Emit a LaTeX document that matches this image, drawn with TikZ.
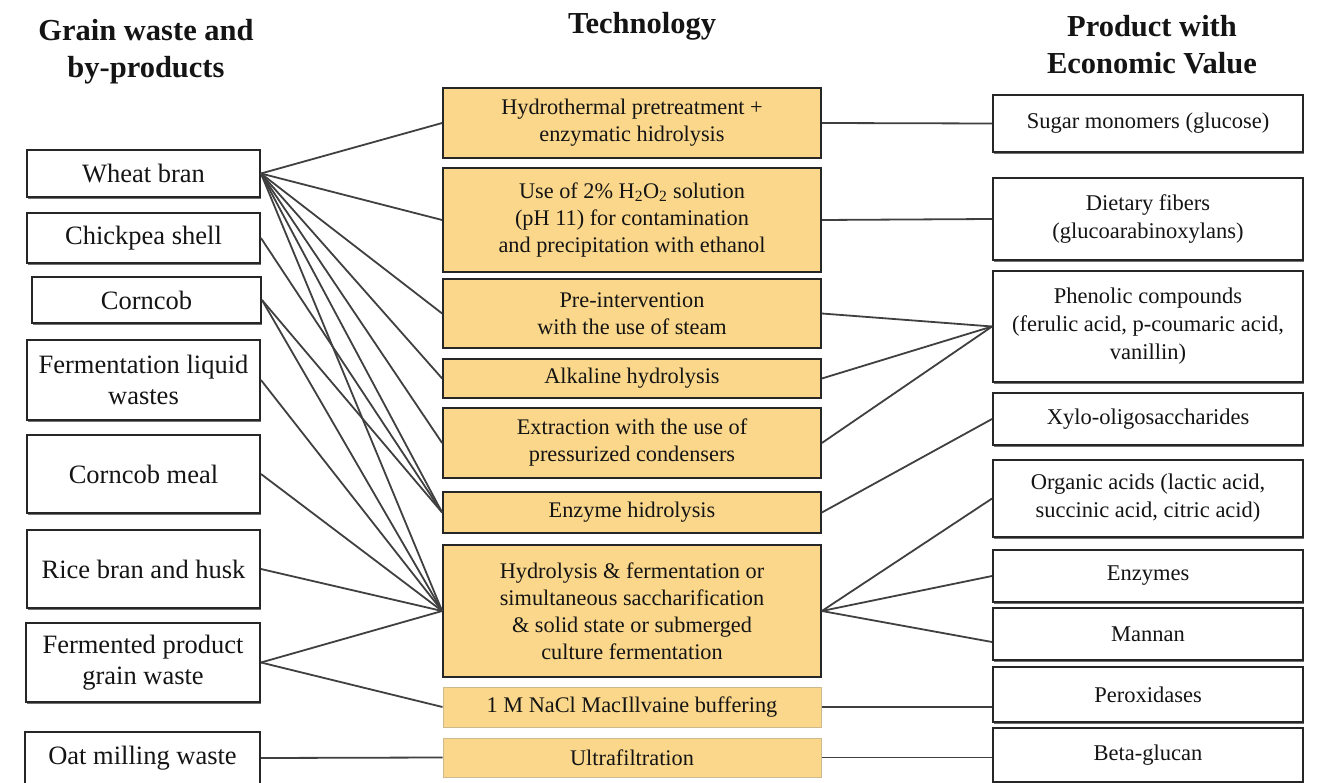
\documentclass[tikz,border=0pt]{standalone}
\usepackage{fontspec}
\setmainfont{Liberation Serif}
\usetikzlibrary{shadows}
\definecolor{techfill}{RGB}{250,215,138}
\definecolor{wire}{RGB}{64,64,64}
\definecolor{edge}{RGB}{38,38,38}
\definecolor{softedge}{RGB}{205,185,140}
\begin{document}
\begin{tikzpicture}[x=1pt,y=-1pt,
  every node/.style={inner sep=0pt, align=center, text=black!92},
  head/.style={font=\fontsize{30.5}{37}\selectfont\bfseries},
  shade box/.style={drop shadow={shadow xshift=0.8pt, shadow yshift=-1.6pt, fill=black!65, opacity=0.85}},
  srcbox/.style={draw=edge, line width=1.9pt, fill=white, minimum width=233pt,
    font=\fontsize{26.5}{31}\selectfont, shade box},
  techbox/.style={draw=edge, line width=1.7pt, fill=techfill, minimum width=378pt,
    font=\fontsize{22.3}{27}\selectfont},
  techsoft/.style={techbox, draw=softedge, line width=1pt},
  prodbox/.style={draw=edge, line width=1.9pt, fill=white, minimum width=310pt,
    font=\fontsize{22.5}{28}\selectfont, shade box},
  wire/.style={draw=wire, line width=1.8pt}
]
\clip (0,0) rectangle (1319,783);
\fill[white] (0,0) rectangle (1319,783);

% column headings
\node[head] (hsrc) at (146,52) {Grain waste and\\by-products};
\node[head] (htech) at (642,26) {Technology};
\node[head] (hprod) at (1152,45) {Product with\\Economic Value};

% grain waste and by-products
\node[srcbox, minimum height=47pt] (wheat) at (143.5,173.5) {Wheat bran};
\node[srcbox, minimum height=50pt] (chick) at (143.5,238) {Chickpea shell};
\node[srcbox, minimum width=229pt, minimum height=46pt] (corncob) at (146.5,300) {Corncob};
\node[srcbox, minimum height=80pt] (flw) at (143.5,380) {Fermentation liquid\\wastes};
\node[srcbox, minimum height=78pt] (cmeal) at (143.5,474) {Corncob meal};
\node[srcbox, minimum height=78pt] (rice) at (143.5,569) {Rice bran and husk};
\node[srcbox, minimum width=234pt, minimum height=79pt] (fpgw) at (143,662.5) {Fermented product\\grain waste};
\node[srcbox, minimum width=235pt, minimum height=52pt] (oat) at (142.5,758) {Oat milling waste};

% technologies
\node[techbox, minimum height=70pt] (hydro) at (632,123) {Hydrothermal pretreatment +\\enzymatic hidrolysis};
\node[techbox, minimum height=104pt] (perox2) at (632,220) {Use of 2\% H\textsubscript{2}O\textsubscript{2} solution\\(pH 11) for contamination\\and precipitation with ethanol};
\node[techbox, minimum height=69pt] (steam) at (632,313.5) {Pre-intervention\\with the use of steam};
\node[techbox, minimum height=39pt] (alk) at (632,378.5) {Alkaline hydrolysis};
\node[techbox, minimum height=70pt] (extr) at (632,443) {Extraction with the use of\\pressurized condensers};
\node[techbox, minimum height=41pt] (enz) at (632,512.5) {Enzyme hidrolysis};
\node[techbox, minimum height=132pt] (ferm) at (632,611) {Hydrolysis \& fermentation or\\simultaneous saccharification\\\& solid state or submerged\\culture fermentation};
\node[techsoft, minimum height=40pt] (nacl) at (632,707) {1 M NaCl MacIllvaine buffering};
\node[techsoft, minimum height=39pt] (ultra) at (632,757.5) {Ultrafiltration};

% products with economic value
\node[prodbox, minimum height=57pt] (sugar) at (1148,123.5) {Sugar monomers (glucose)};
\node[prodbox, minimum height=82pt] (fiber) at (1148,219) {Dietary fibers\\(glucoarabinoxylans)};
\node[prodbox, minimum height=111pt] (phen) at (1148,326.5) {Phenolic compounds\\(ferulic acid, p-coumaric acid,\\vanillin)};
\node[prodbox, minimum height=52pt] (xylo) at (1148,419) {Xylo-oligosaccharides};
\node[prodbox, minimum height=77pt] (orga) at (1148,498.5) {Organic acids (lactic acid,\\succinic acid, citric acid)};
\node[prodbox, minimum height=52pt] (enzy) at (1148,576) {Enzymes};
\node[prodbox, minimum height=52pt] (mann) at (1148,634) {Mannan};
\node[prodbox, minimum height=55pt] (pero) at (1148,694.5) {Peroxidases};
\node[prodbox, minimum height=54pt] (beta) at (1148,755) {Beta-glucan};

% by-product to technology links
\foreach \t in {hydro,perox2,steam,alk,extr,enz,ferm}
  \draw[wire] (wheat.east) -- (\t.west);
\draw[wire] (chick.east) -- (enz.west);
\draw[wire] (corncob.east) -- (enz.west);
\draw[wire] (corncob.east) -- (ferm.west);
\draw[wire] (flw.east) -- (ferm.west);
\draw[wire] (cmeal.east) -- (ferm.west);
\draw[wire] (rice.east) -- (ferm.west);
\draw[wire] (fpgw.east) -- (ferm.west);
\draw[wire] (fpgw.east) -- (nacl.west);
\draw[wire] (oat.east) -- (ultra.west);

% technology to product links
\draw[wire] (hydro.east) -- (sugar.west);
\draw[wire] (perox2.east) -- (fiber.west);
\draw[wire] (steam.east) -- (phen.west);
\draw[wire] (alk.east) -- (phen.west);
\draw[wire] (extr.east) -- (phen.west);
\draw[wire] (enz.east) -- (xylo.west);
\draw[wire] (ferm.east) -- (orga.west);
\draw[wire] (ferm.east) -- (enzy.west);
\draw[wire] (ferm.east) -- ([yshift=-8pt]mann.west);
\draw[wire] (nacl.east) -- (nacl.east -| pero.west);
\draw[wire] (ultra.east) -- (ultra.east -| beta.west);
\end{tikzpicture}
\end{document}
